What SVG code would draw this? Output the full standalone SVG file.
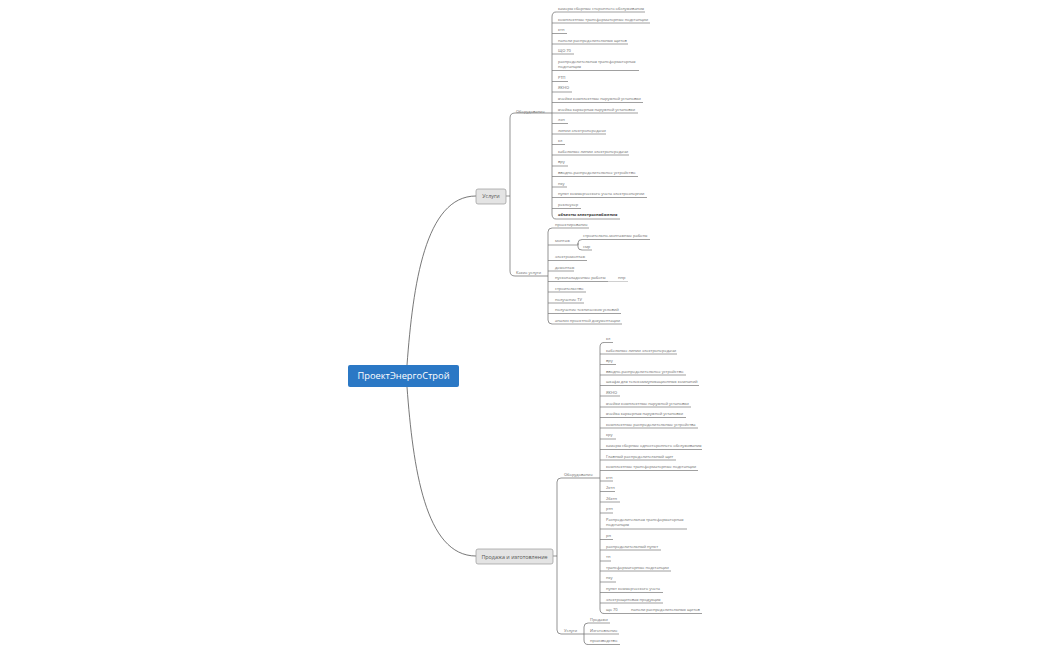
<svg xmlns="http://www.w3.org/2000/svg" width="1050" height="650" viewBox="0 0 1050 650">
<style>
text{font-family:"Open Sans","Noto Sans",sans-serif;font-size:4px;fill:#666}
.u{stroke:#777;stroke-width:.7;fill:none}
.c{stroke:#666;stroke-width:.7;fill:none}
.m{stroke:#555;stroke-width:.8;fill:none}
.t{fill:#e4e4e4;stroke:#999;stroke-width:.7}
.tt{font-size:5.400px;text-anchor:middle;fill:#555}
.b{font-weight:700;fill:#333}
</style>
<rect width="1050" height="650" fill="#fff"/>
<g id="connectors">
<path class="m" d="M407 365C413 285 425 196 476 196"/>
<path class="m" d="M407 387C413 467 425 556 476 556"/>
<path class="c" d="M506 196H510M553 556H557"/>
<path class="c" d="M552 113H515Q510 113 510 118V271Q510 276 515 276H548"/>
<path class="c" d="M556 12Q552 12 552 17V214Q552 219 556 219"/>
<path class="c" d="M552 228Q548 228 548 232V320Q548 324 552 324"/>
<path class="c" d="M582 239.500Q578 239.500 578 243V247Q578 250 582 250"/>
<path class="c" d="M604 342.500Q600 342.500 600 347V609Q600 613.500 604 613.500"/>
<path class="c" d="M600 478H561Q557 478 557 482V630Q557 634 561 634H584"/>
<path class="c" d="M588 623Q584 623 584 627V640Q584 644.500 588 644.500"/>
</g>
<g id="root"><rect x="348" y="365" width="111" height="22" rx="2" fill="#2b78c5"/><text x="403.500" y="379" text-anchor="middle" style="font-size:9.300px;fill:#fff">ПроектЭнергоСтрой</text></g>
<g id="uslugi"><rect class="t" x="476" y="189" width="30" height="15" rx="2"/><text class="tt" x="491" y="198">Услуги</text></g>
<g id="prodazha"><rect class="t" x="476" y="549" width="77" height="15" rx="2"/><text class="tt" x="514.500" y="558.500">Продажа и изготовление</text></g>
<g id="a0"><text x="516" y="113">Оборудование</text></g>
<g id="a1"><text x="516" y="274">Какие услуги</text></g>
<g id="a2"><text x="564" y="476">Оборудование</text></g>
<g id="a3"><text x="564" y="632">Услуги</text></g>
<g id="n1"><text x="558" y="9.500">камеры сборные стороннего обслуживания</text><path class="u" d="M556 12H645"/></g>
<g id="n2"><text x="558" y="20.500">комплектные трансформаторные подстанции</text><path class="u" d="M552 23H650"/></g>
<g id="n3"><text x="558" y="31">ктп</text><path class="u" d="M552 33.500H567"/></g>
<g id="n4"><text x="558" y="41.500">панели распределительных щитов</text><path class="u" d="M552 44H628"/></g>
<g id="n5"><text x="558" y="51.500">ЩО 70</text><path class="u" d="M552 54H574"/></g>
<g id="n6"><text x="558" y="62.500">распределительная трансформаторная</text><text x="558" y="67.800">подстанция</text><path class="u" d="M552 70.500H639"/></g>
<g id="n7"><text x="558" y="78.500">РТП</text><path class="u" d="M552 81.500H568"/></g>
<g id="n8"><text x="558" y="89">ЯКНО</text><path class="u" d="M552 92H572"/></g>
<g id="n9"><text x="558" y="99.500">ячейки комплектные наружной установки</text><path class="u" d="M552 102.500H643"/></g>
<g id="n10"><text x="558" y="110.500">ячейка карьерная наружной установки</text><path class="u" d="M552 113H638"/></g>
<g id="n11"><text x="558" y="121">лэп</text><path class="u" d="M552 123.500H568"/></g>
<g id="n12"><text x="558" y="131.500">линии электропередачи</text><path class="u" d="M552 134H606"/></g>
<g id="n13"><text x="558" y="142">кл</text><path class="u" d="M552 144.500H565"/></g>
<g id="n14"><text x="558" y="152.500">кабельные линии электропередачи</text><path class="u" d="M552 155H629"/></g>
<g id="n15"><text x="558" y="163">вру</text><path class="u" d="M552 166H568"/></g>
<g id="n16"><text x="558" y="174">вводно-распределительное устройство</text><path class="u" d="M552 176.500H638"/></g>
<g id="n17"><text x="558" y="184.500">пку</text><path class="u" d="M552 187H567"/></g>
<g id="n18"><text x="558" y="195">пункт коммерческого учета электроэнергии</text><path class="u" d="M552 197.500H647"/></g>
<g id="n19"><text x="558" y="205.500">реклоузер</text><path class="u" d="M552 208.500H581"/></g>
<g id="n20"><text x="558" y="216" class="b">объекты электроснабжения</text><path class="u" d="M556 219H620"/></g>
<g id="s1"><text x="555" y="226">проектирование</text><path class="u" d="M552 228H589"/></g>
<g id="s2"><text x="555" y="242">монтаж</text><path class="u" d="M548 245H578V243"/></g>
<g id="s3"><text x="583" y="237">строительно-монтажные работы</text><path class="u" d="M582 239.500H650"/></g>
<g id="s4"><text x="583" y="247.500">смр</text><path class="u" d="M582 250H592"/></g>
<g id="s5"><text x="555" y="258">электромонтаж</text><path class="u" d="M548 260.500H587"/></g>
<g id="s6"><text x="555" y="268.500">демонтаж</text><path class="u" d="M548 271H574"/></g>
<g id="s7"><text x="555" y="279">пусконаладочные работы</text><path class="u" d="M548 281.500H608"/></g>
<g id="s8"><text x="618" y="279">пнр</text><path class="u" d="M608 281.500H628" stroke-opacity=".5"/></g>
<g id="s9"><text x="555" y="289.500">строительство</text><path class="u" d="M548 292H586"/></g>
<g id="s10"><text x="555" y="300.500">получение ТУ</text><path class="u" d="M548 303H584"/></g>
<g id="s11"><text x="555" y="311">получение технических условий</text><path class="u" d="M548 313.500H621"/></g>
<g id="s12"><text x="555" y="321.500">анализ проектной документации</text><path class="u" d="M552 324H622"/></g>
<g id="p1"><text x="606" y="340">кл</text><path class="u" d="M604 342.500H613"/></g>
<g id="p2"><text x="606" y="351.500">кабельные линии электропередачи</text><path class="u" d="M600 354H677"/></g>
<g id="p3"><text x="606" y="362">вру</text><path class="u" d="M600 364.500H616"/></g>
<g id="p4"><text x="606" y="372.500">вводно-распределительное устройство</text><path class="u" d="M600 375H686"/></g>
<g id="p5"><text x="606" y="383">шкафы для телекоммуникационных компаний</text><path class="u" d="M600 385.500H699"/></g>
<g id="p6"><text x="606" y="393.500">ЯКНО</text><path class="u" d="M600 396H620"/></g>
<g id="p7"><text x="606" y="404.500">ячейки комплектные наружной установки</text><path class="u" d="M600 407H691"/></g>
<g id="p8"><text x="606" y="415">ячейка карьерная наружной установки</text><path class="u" d="M600 417.500H686"/></g>
<g id="p9"><text x="606" y="425.500">комплектные распределительные устройства</text><path class="u" d="M600 428H698"/></g>
<g id="p10"><text x="606" y="436">кру</text><path class="u" d="M600 439H616"/></g>
<g id="p11"><text x="606" y="447">камеры сборные одностороннего обслуживания</text><path class="u" d="M600 449.500H702"/></g>
<g id="p12"><text x="606" y="457.500">Главный распределительный щит</text><path class="u" d="M600 460H676"/></g>
<g id="p13"><text x="606" y="468">комплектные трансформаторные подстанции</text><path class="u" d="M600 470.500H698"/></g>
<g id="p14"><text x="606" y="478.500">ктп</text><path class="u" d="M600 481H613"/></g>
<g id="p15"><text x="606" y="489">2ктп</text><path class="u" d="M600 491.500H615"/></g>
<g id="p16"><text x="606" y="499.500">2бктп</text><path class="u" d="M600 502H620"/></g>
<g id="p17"><text x="606" y="510">ртп</text><path class="u" d="M600 513H613"/></g>
<g id="p18"><text x="606" y="521">Распределительная трансформаторная</text><text x="606" y="526.300">подстанция</text><path class="u" d="M600 529H687"/></g>
<g id="p19"><text x="606" y="536.500">рп</text><path class="u" d="M600 539.500H613"/></g>
<g id="p20"><text x="606" y="547.500">распределительный пункт</text><path class="u" d="M600 550H661"/></g>
<g id="p21"><text x="606" y="558">тп</text><path class="u" d="M600 561H611"/></g>
<g id="p22"><text x="606" y="568.500">трансформаторные подстанции</text><path class="u" d="M600 571H671"/></g>
<g id="p23"><text x="606" y="579">пку</text><path class="u" d="M600 582H616"/></g>
<g id="p24"><text x="606" y="590">пункт коммерческого учета</text><path class="u" d="M600 592.500H663"/></g>
<g id="p25"><text x="606" y="600.500">электрощитовая продукция</text><path class="u" d="M600 603H663"/></g>
<g id="p26"><text x="606" y="611">що 70</text><path class="u" d="M604 613.500H631"/></g>
<g id="p27"><text x="631" y="611">панели распределительных щитов</text><path class="u" d="M631 613.500H702"/></g>
<g id="q1"><text x="590" y="621">Продажи</text><path class="u" d="M588 623H610"/></g>
<g id="q2"><text x="590" y="631.500">Изготовление</text><path class="u" d="M584 634H619"/></g>
<g id="q3"><text x="590" y="642">производство</text><path class="u" d="M588 644.500H620"/></g>
</svg>
